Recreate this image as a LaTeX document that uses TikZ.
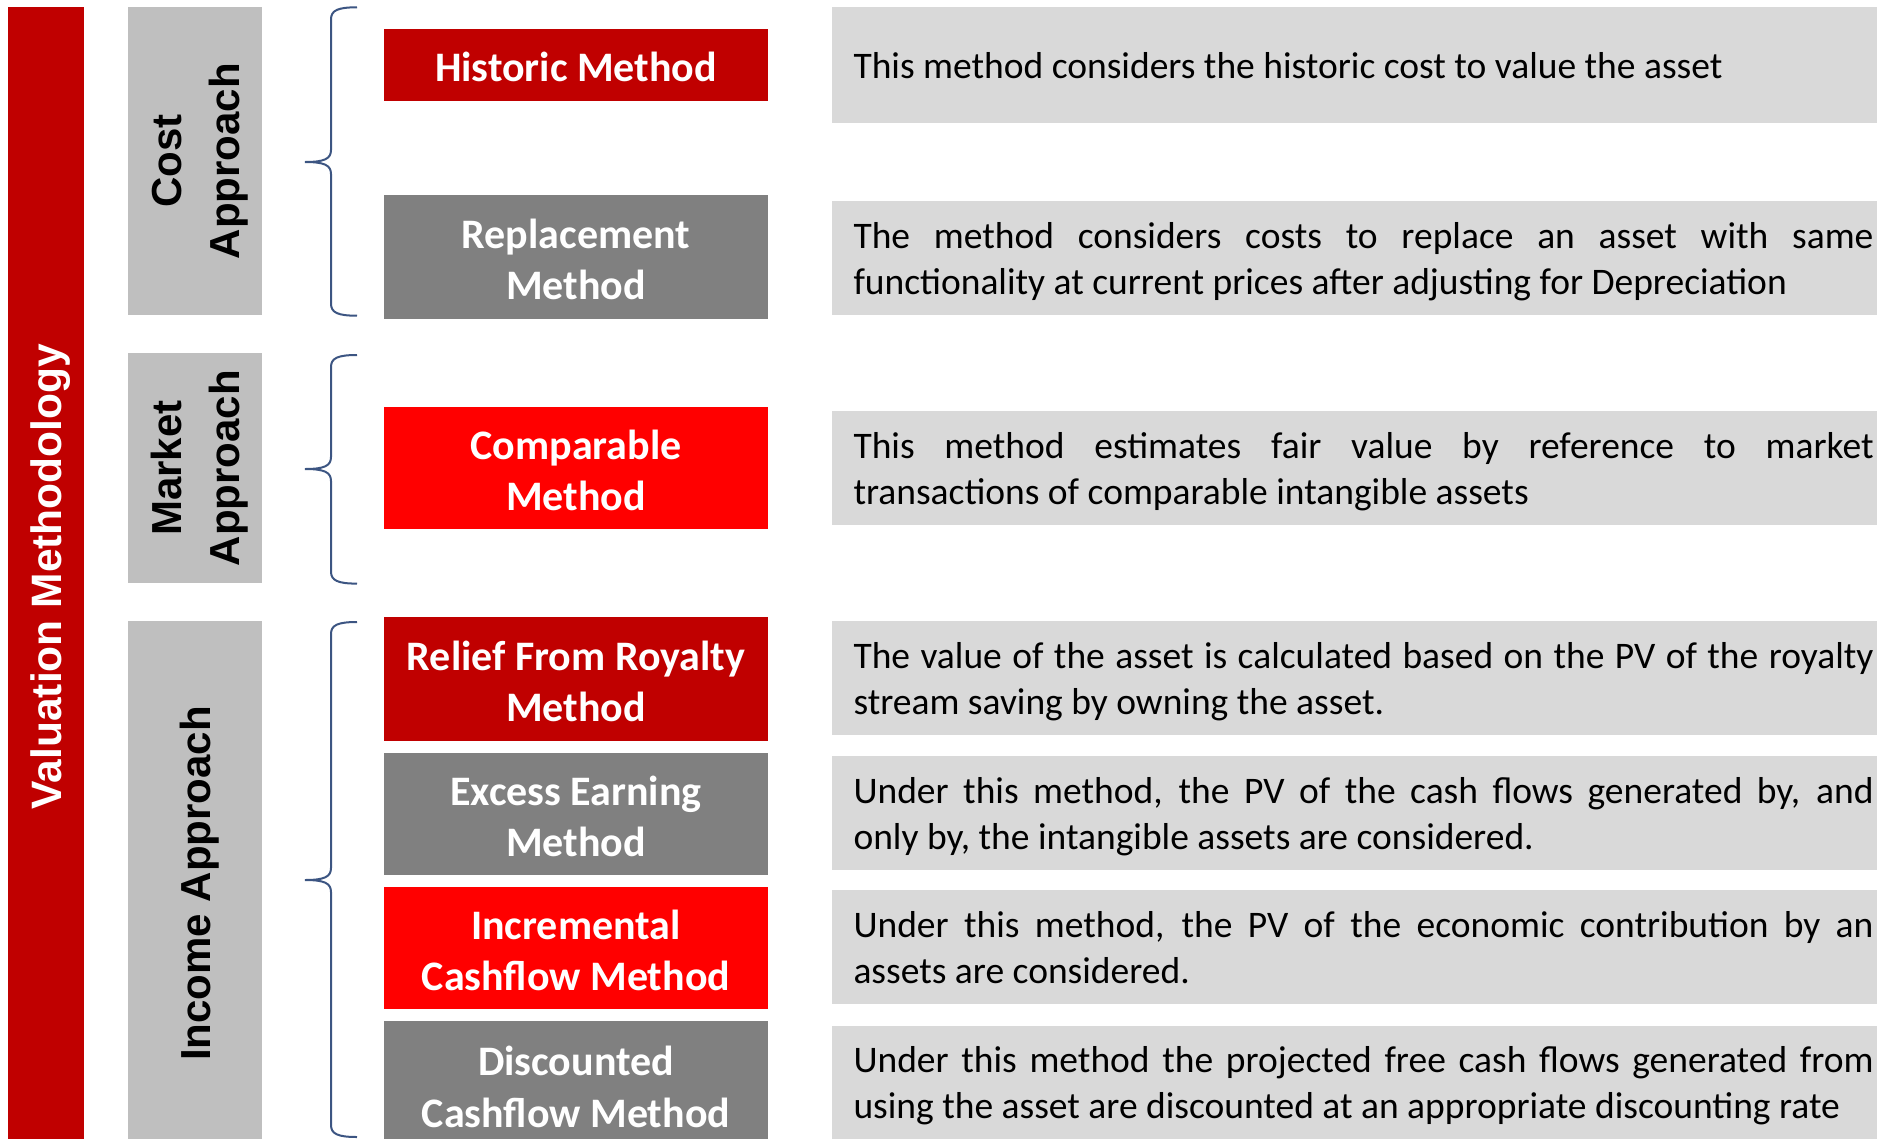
\documentclass[tikz,border=0pt]{standalone}
\usepackage{fontspec}
\setmainfont{Carlito}
\newfontfamily\headfont{Liberation Sans}

\definecolor{darkred}{HTML}{C00000}
\definecolor{brightred}{HTML}{FF0000}
\definecolor{midgray}{HTML}{808080}
\definecolor{approachgray}{HTML}{BFBFBF}
\definecolor{descgray}{HTML}{D9D9D9}
\definecolor{bracecol}{RGB}{60,85,130}

% line struts (height + depth = baselineskip) used to place the lines in their boxes
\newcommand\mstrut{\rule[-8.65pt]{0pt}{51.5pt}}
% description lines use the font's own interword spacing
\newcommand\dstrut{\spaceskip=0pt\xspaceskip=0pt\rule[-9.7pt]{0pt}{46pt}}
\newcommand\hstrut{\rule[-14pt]{0pt}{58pt}}

% left curly bracket: top y, tip y, bottom y
\newcommand\groupbrace[3]{%
  \draw[brace] (357,#1) .. controls (338,#1) and (331,{#1+3}) .. (331,{#1+12})
    -- (331,{#2-12}) .. controls (331,{#2-3}) and (324,#2) .. (305,#2)
    .. controls (324,#2) and (331,{#2+3}) .. (331,{#2+12})
    -- (331,{#3-12}) .. controls (331,{#3-3}) and (338,#3) .. (357,#3);}

\begin{document}
\begin{tikzpicture}[x=1pt,y=-1pt,
  every node/.style={inner sep=0pt, outer sep=0pt},
  vbar/.style={fill=darkred, text=white, rotate=90, align=center,
    font=\headfont\bfseries\fontsize{42.5}{58}\selectfont},
  approach/.style={fill=approachgray, text=black, rotate=90, align=center,
    minimum height=134pt, font=\headfont\bfseries\fontsize{42}{58}\selectfont},
  method/.style={minimum width=384pt, minimum height=122pt, text=white,
    align=center, font=\bfseries\fontsize{42}{51.5}\selectfont},
  desc/.style={fill=descgray, minimum width=1063pt, minimum height=114pt,
    text width=1020pt, align=left, text=black, font=\fontsize{37.5}{46}\selectfont},
  brace/.style={draw=bracecol, line width=2pt}
]
\useasboundingbox (0,0) rectangle (1877,1138);

% main label
\node[vbar, minimum width=1139pt, minimum height=76pt] (valuation) at (46,576.5)
  {\hstrut Valuation Methodology};

% approaches
\node[approach, minimum width=308pt] (cost) at (195,161) {\hstrut Cost\\\hstrut Approach};
\node[approach, minimum width=229.4pt] (market) at (195,468) {\hstrut Market\\\hstrut Approach};
\node[approach, minimum width=525pt] (income) at (195,883.5) {\hstrut Income Approach};

% brackets
\groupbrace{7.3}{162}{315.7}
\groupbrace{355}{469}{583.6}
\groupbrace{622}{880}{1137}

% methods
\node[method, fill=darkred, minimum height=72pt] (historic) at (576,64.7) {\mstrut Historic Method};
\node[method, fill=midgray, minimum height=124pt] (replacement) at (576,257) {\mstrut Replacement\\\mstrut Method};
\node[method, fill=brightred] (comparable) at (576,467.9) {\mstrut Comparable\\\mstrut Method};
\node[method, fill=darkred, minimum height=123.5pt] (relief) at (576,678.8) {\mstrut Relief From Royalty\\\mstrut Method};
\node[method, fill=midgray] (excess) at (576,814) {\mstrut Excess Earning\\\mstrut Method};
\node[method, fill=brightred] (incremental) at (576,947.8) {\mstrut Incremental\\\mstrut Cashflow Method};
\node[method, fill=midgray, minimum height=128pt] (discounted) at (576,1084.6) {\mstrut Discounted\\\mstrut Cashflow Method};

% descriptions
\node[desc, minimum height=115.5pt] (d-historic) at (1363.5,64.75)
  {\dstrut This method considers the historic cost to value the asset};
\node[desc] (d-replacement) at (1363.5,257.8)
  {\dstrut\makebox[1020pt][s]{The method considers costs to replace an asset with same}\\
   \dstrut functionality at current prices after adjusting for Depreciation};
\node[desc] (d-comparable) at (1363.5,467.9)
  {\dstrut\makebox[1020pt][s]{This method estimates fair value by reference to market}\\
   \dstrut transactions of comparable intangible assets};
\node[desc] (d-relief) at (1363.5,677.9)
  {\dstrut\makebox[1020pt][s]{The value of the asset is calculated based on the PV of the royalty}\\
   \dstrut stream saving by owning the asset.};
\node[desc] (d-excess) at (1363.5,813)
  {\dstrut\makebox[1020pt][s]{Under this method, the PV of the cash flows generated by, and}\\
   \dstrut only by, the intangible assets are considered.};
\node[desc] (d-incremental) at (1363.5,947)
  {\dstrut\makebox[1020pt][s]{Under this method, the PV of the economic contribution by an}\\
   \dstrut assets are considered.};
\node[desc, minimum height=114pt] (d-discounted) at (1363.5,1082.5)
  {\dstrut\makebox[1020pt][s]{Under this method the projected free cash flows generated from}\\
   \dstrut using the asset are discounted at an appropriate discounting rate};
\end{tikzpicture}
\end{document}
